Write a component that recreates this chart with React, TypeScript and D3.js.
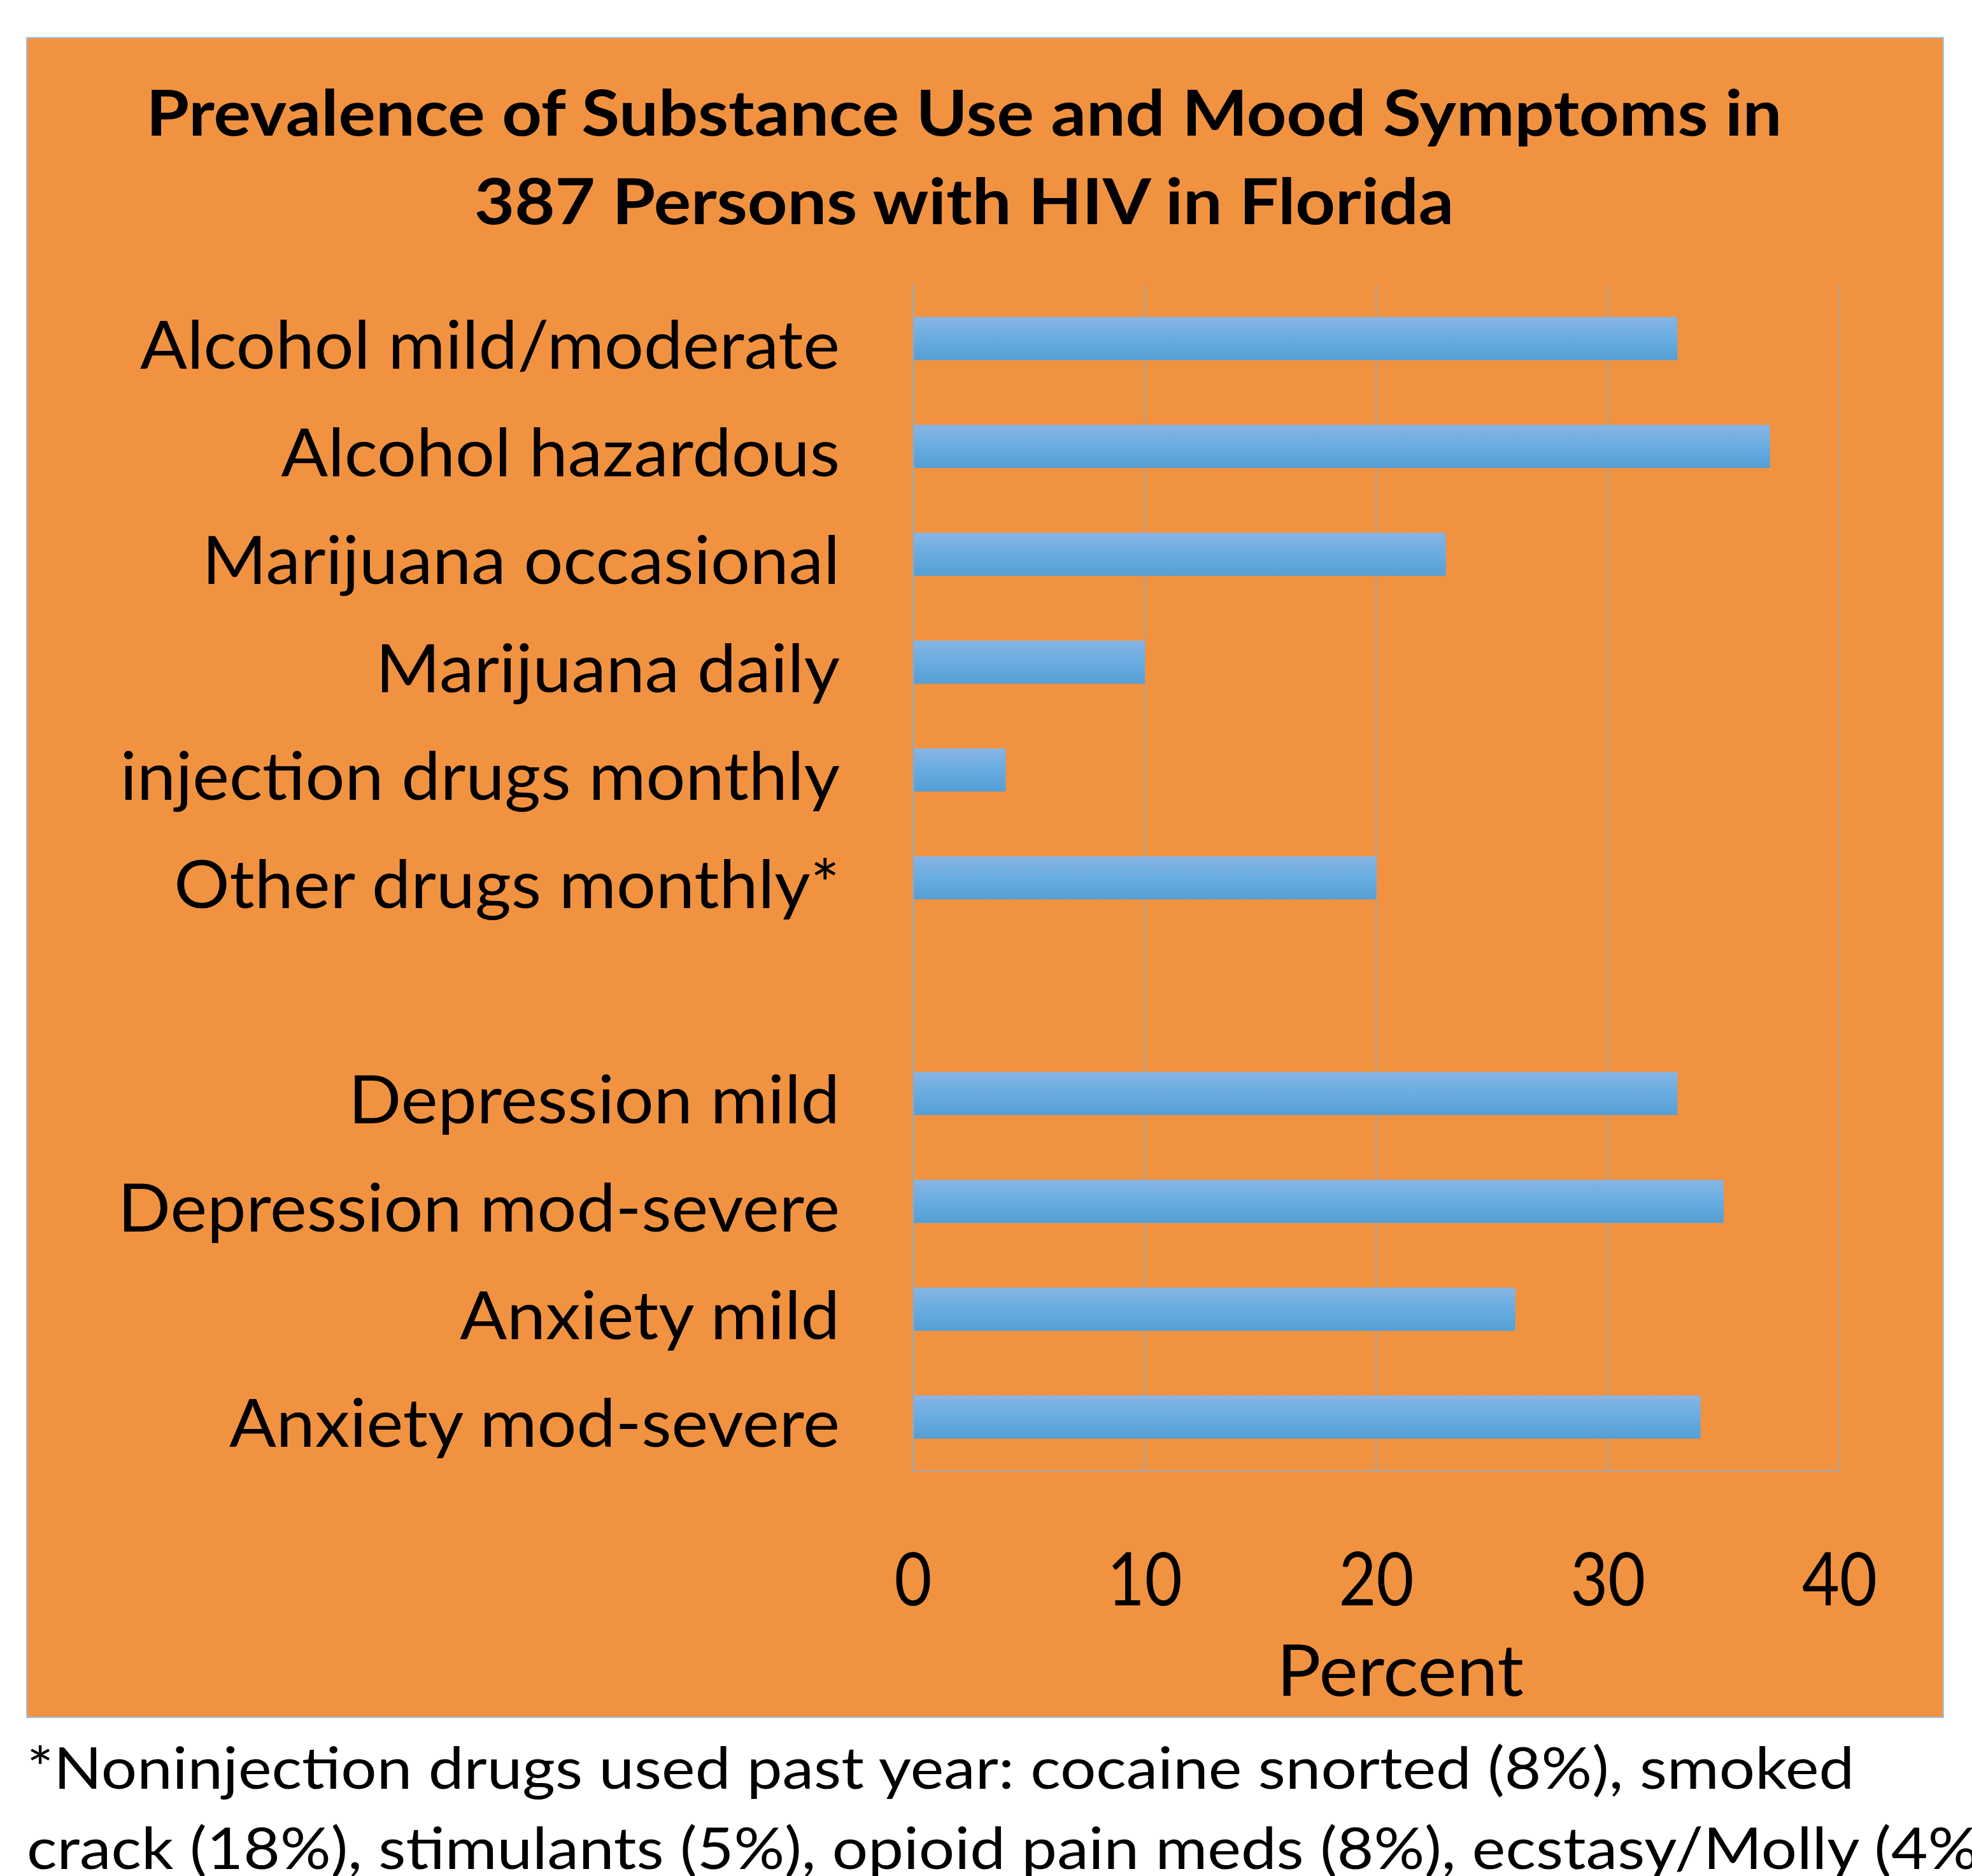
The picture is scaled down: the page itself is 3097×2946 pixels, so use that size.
import React, { useRef, useEffect } from "react";
import * as d3 from "d3";

// ---- Data ----
const categories = [
  "Alcohol mild/moderate",
  "Alcohol hazardous",
  "Marijuana occasional",
  "Marijuana daily",
  "injection drugs monthly",
  "Other drugs monthly*",
  "",
  "Depression mild",
  "Depression mod-severe",
  "Anxiety mild",
  "Anxiety mod-severe",
];
const values: (number | null)[] = [33, 37, 23, 10, 4, 20, null, 33, 35, 26, 34];
const xTicks = [0, 10, 20, 30, 40];
const titleLines = [
  "Prevalence of Substance Use and Mood Symptoms in",
  "387 Persons with HIV in Florida",
];
const xAxisTitle = "Percent";
const footnoteLines = [
  "*Noninjection drugs used past year: cocaine snorted (8%), smoked",
  "crack (18%), stimulants (5%), opioid pain meds (8%), ecstasy/Molly (4%)",
];

// ---- Layout ----
const W = 3097;
const H = 2946;
const panel = { x: 42, y: 59, w: 3010, h: 2638 };
const plot = { left: 1434, right: 2889, top: 447, bottom: 2310 };
const FONT = "Lato, 'Open Sans', 'Noto Sans', sans-serif";

// target rendered widths used to match the condensed look of the original font
const fitGroups = [
  { g: "title", target: 2569 },
  { g: "cat", target: 1099 },
  { g: "tick", target: 118 },
  { g: "xt", target: 388 },
  { g: "foot", target: 2870 },
];

export default function App() {
  const ref = useRef<SVGSVGElement>(null);

  const x = d3.scaleLinear().domain([0, 40]).range([plot.left, plot.right]);
  const y = d3
    .scaleBand<number>()
    .domain(d3.range(categories.length))
    .range([plot.top, plot.bottom])
    .paddingInner(0.6)
    .paddingOuter(0.3);
  const step = y.step();

  useEffect(() => {
    const apply = () => {
      const svg = d3.select(ref.current);
      fitGroups.forEach(({ g, target }) => {
        const nodes = svg.selectAll<SVGTextElement, unknown>(`text[data-g="${g}"]`).nodes();
        if (!nodes.length) return;
        const refNode = nodes.find((n) => n.getAttribute("data-ref") === "1") || nodes[0];
        const w = refNode.getComputedTextLength();
        if (!w) return;
        const k = target / w;
        nodes.forEach((n) => {
          const base = n.getAttribute("data-t") || "";
          n.setAttribute("transform", `${base} scale(${k},1)`);
        });
      });
    };
    apply();
    if ((document as any).fonts && (document as any).fonts.ready) {
      (document as any).fonts.ready.then(apply);
    }
  }, []);

  const t = (tx: number, ty: number) => `translate(${tx},${ty})`;

  return (
    <svg
      ref={ref}
      width={W}
      height={H}
      style={{ position: "absolute", left: 0, top: 0, background: "#ffffff" }}
      fontFamily={FONT}
    >
      <defs>
        <linearGradient id="barGrad" x1="0" y1="0" x2="0" y2="1">
          <stop offset="0%" stopColor="#88b5e3" />
          <stop offset="50%" stopColor="#68ace2" />
          <stop offset="100%" stopColor="#549fd5" />
        </linearGradient>
      </defs>
      <rect width={W} height={H} fill="#ffffff" />
      <rect
        x={panel.x}
        y={panel.y}
        width={panel.w}
        height={panel.h}
        fill="#f19241"
        stroke="#9dc3e6"
        strokeWidth={2}
      />

      {/* Title */}
      {titleLines.map((line, i) => {
        const tr = t(1514, 213 + i * 139);
        return (
          <text
            key={i}
            data-g="title"
            data-ref={i === 0 ? "1" : "0"}
            data-t={tr}
            transform={tr}
            textAnchor="middle"
            fontWeight={700}
            fontSize={100}
            fill="#000"
          >
            {line}
          </text>
        );
      })}

      {/* Gridlines */}
      {xTicks
        .filter((v) => v > 0)
        .map((v) => (
          <line
            key={v}
            x1={x(v)}
            x2={x(v)}
            y1={plot.top}
            y2={plot.bottom}
            stroke="#a5a5a5"
            strokeWidth={2}
          />
        ))}

      {/* Bars */}
      {values.map((v, i) =>
        v == null ? null : (
          <rect
            key={i}
            x={x(0)}
            y={y(i)!}
            width={x(v) - x(0)}
            height={y.bandwidth()}
            fill="url(#barGrad)"
          />
        )
      )}

      {/* Axes */}
      <line x1={x(0)} x2={x(0)} y1={plot.top} y2={plot.bottom} stroke="#a5a5a5" strokeWidth={3} />
      <line x1={x(0)} x2={x(40)} y1={plot.bottom} y2={plot.bottom} stroke="#9eaabb" strokeWidth={2} />

      {/* Category labels */}
      {categories.map((c, i) => {
        if (!c) return null;
        const tr = t(1319, y(i)! + y.bandwidth() / 2 + 47);
        return (
          <text
            key={i}
            data-g="cat"
            data-ref={i === 0 ? "1" : "0"}
            data-t={tr}
            transform={tr}
            textAnchor="end"
            fontSize={105}
            fill="#000"
          >
            {c}
          </text>
        );
      })}

      {/* Tick labels */}
      {xTicks.map((v) => {
        const tr = t(x(v), 2521);
        return (
          <text
            key={v}
            data-g="tick"
            data-ref={v === 10 ? "1" : "0"}
            data-t={tr}
            transform={tr}
            textAnchor="middle"
            fontSize={116}
            fill="#000"
          >
            {v}
          </text>
        );
      })}

      {/* X axis title */}
      <text
        data-g="xt"
        data-ref="1"
        data-t={t(2199, 2663)}
        transform={t(2199, 2663)}
        textAnchor="middle"
        fontSize={112}
        fill="#000"
      >
        {xAxisTitle}
      </text>

      {/* Footnote */}
      {footnoteLines.map((line, i) => {
        const tr = t(42, 2809 + i * 126);
        return (
          <text
            key={i}
            data-g="foot"
            data-ref={i === 0 ? "1" : "0"}
            data-t={tr}
            transform={tr}
            textAnchor="start"
            fontSize={92}
            fill="#000"
          >
            {line}
          </text>
        );
      })}
    </svg>
  );
}
